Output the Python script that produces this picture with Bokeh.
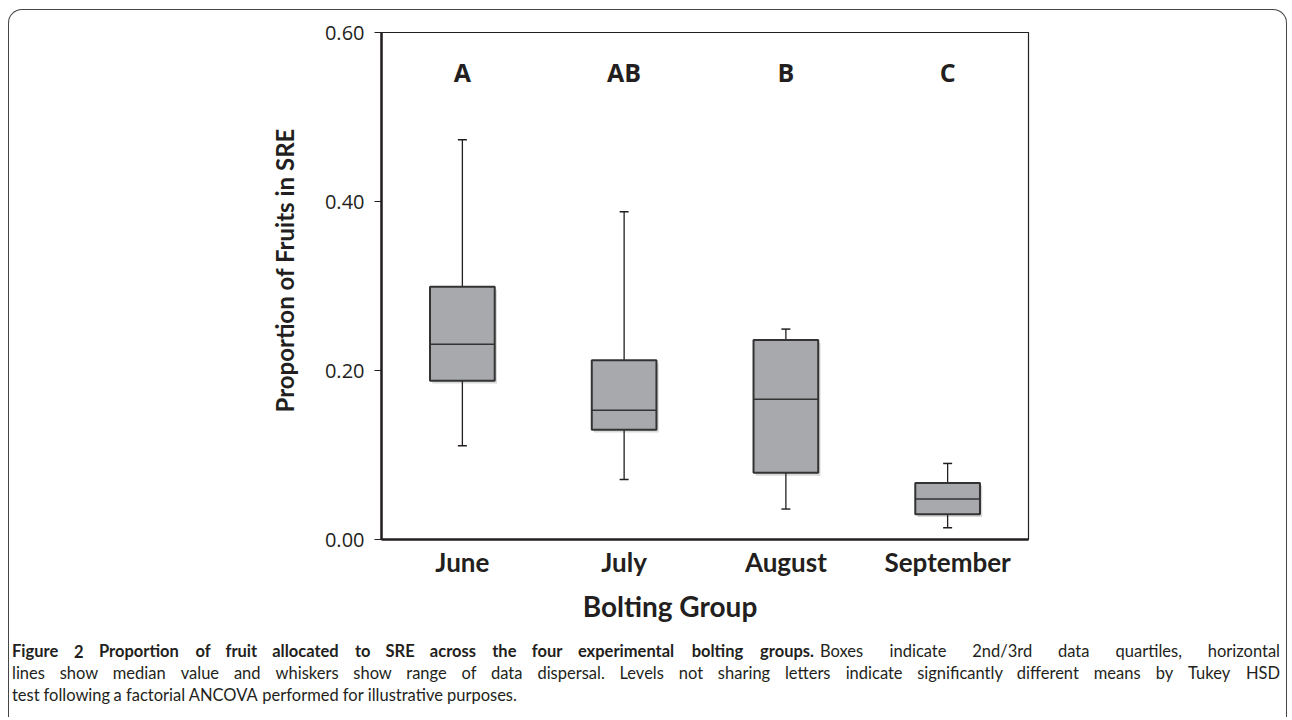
import numpy as np
from bokeh.plotting import figure
from bokeh.layouts import column
from bokeh.models import ColumnDataSource, FactorRange, Range1d, FixedTicker, PrintfTickFormatter, Title
from bokeh.transform import dodge
from bokeh.core.properties import value
from bokeh.embed import file_html
from bokeh.resources import INLINE

# ---------------- data ----------------
groups = ["June", "July", "August", "September"]
whisker_low = [0.111, 0.071, 0.036, 0.014]
quartile1 = [0.188, 0.130, 0.079, 0.030]
median = [0.231, 0.153, 0.166, 0.048]
quartile3 = [0.299, 0.212, 0.236, 0.067]
whisker_high = [0.473, 0.388, 0.249, 0.090]
letters = ["A", "AB", "B", "C"]
letter_level = 0.553
y_ticks = [0.0, 0.2, 0.4, 0.6]

y_title = "Proportion of Fruits in SRE"
x_title = "Bolting Group"
caption_bold = "Figure 2 Proportion of fruit allocated to SRE across the four experimental bolting groups."
caption_rest = ("Boxes indicate 2nd/3rd data quartiles, horizontal lines show median value and whiskers show range "
                "of data dispersal. Levels not sharing letters indicate significantly different means by Tukey HSD "
                "test following a factorial ANCOVA performed for illustrative purposes.")

INK = "#231f20"
BOX = "#a7a9ac"
EDGE = "1.5px solid #454545"

# ---------------- layout constants (page pixels) ----------------
OX, OY = 9.5, 10.5              # page position of the canvas origin (margin + border)
W, H = 1279, 580                # main canvas
HC = 128                        # lower canvas (axis title + caption)
F_LEFT, F_RIGHT, F_TOP, F_BOTTOM = 381, 1029, 32, 539

src = ColumnDataSource(dict(
    g=groups, lo=whisker_low, q1=quartile1, med=median, q3=quartile3, hi=whisker_high,
    q1s=[v - 0.0035 for v in quartile1], q3s=[v - 0.0035 for v in quartile3],
))

p = figure(width=W, height=H,
           x_range=FactorRange(factors=groups, range_padding=0),
           y_range=Range1d(0, 0.6),
           output_backend="svg", toolbar_location=None,
           min_border_left=round(F_LEFT - OX), min_border_right=round(W - (F_RIGHT - OX)),
           min_border_top=round(F_TOP - OY), min_border_bottom=int(H - (F_BOTTOM - OY)))
p.styles = {"border-top": EDGE, "border-left": EDGE, "border-right": EDGE,
            "border-radius": "14px 14px 0 0", "margin-left": "8px", "margin-top": "9px"}
p.background_fill_color = None
p.border_fill_color = None
p.xgrid.visible = False
p.ygrid.visible = False
p.outline_line_color = INK
p.outline_line_width = 1.2

# y axis
p.yaxis.ticker = FixedTicker(ticks=y_ticks)
p.yaxis.formatter = PrintfTickFormatter(format="%.2f")
p.yaxis.axis_line_width = 2.5
p.yaxis.axis_line_color = INK
p.yaxis.major_tick_out = 7
p.yaxis.major_tick_in = 0
p.yaxis.major_tick_line_color = INK
p.yaxis.minor_tick_line_color = None
p.yaxis.major_label_standoff = 10
p.yaxis.major_label_text_font = "Open Sans"
p.yaxis.major_label_text_font_size = "20px"
p.yaxis.major_label_text_color = INK

# x axis
p.xaxis.axis_line_width = 2.5
p.xaxis.axis_line_color = INK
p.xaxis.major_tick_line_color = None
p.xaxis.minor_tick_line_color = None
p.xaxis.major_label_standoff = 0
p.xaxis.major_label_text_font = "Lato"
p.xaxis.major_label_text_font_style = "bold"
p.xaxis.major_label_text_font_size = "26px"
p.xaxis.major_label_text_color = INK

# y title in the left panel, starting a little above the frame bottom
p.add_layout(Title(text=y_title, align="left", offset=127, standoff=46,
                   text_font="Lato", text_font_style="bold", text_font_size="24px",
                   text_color=INK), "left")

# shadows
p.vbar(x=dodge("g", 0.014, range=p.x_range), top="q3s", bottom="q1s", width=0.4, source=src,
       fill_color="#c9c9c9", fill_alpha=0.7, line_color=None)
# whiskers
p.segment(x0="g", y0="q3", x1="g", y1="hi", source=src, line_color=INK, line_width=1.3)
p.segment(x0="g", y0="lo", x1="g", y1="q1", source=src, line_color=INK, line_width=1.3)
p.scatter(x="g", y="hi", source=src, marker="dash", size=9, line_color=INK, line_width=1.5)
p.scatter(x="g", y="lo", source=src, marker="dash", size=9, line_color=INK, line_width=1.5)
# boxes
p.vbar(x="g", top="q3", bottom="q1", width=0.4, source=src,
       fill_color=BOX, line_color="#333333", line_width=2)
p.vbar(x="g", top="med", bottom="med", width=0.4, source=src,
       fill_color=None, line_color="#333333", line_width=1.6)

# significance letters
p.text(x=groups, y=[letter_level] * len(groups), text=letters,
       text_align="center", text_baseline="middle",
       text_font=value("Open Sans"), text_font_style="bold", text_font_size="25px", text_color=INK)

# ---------------- lower figure: x title + caption (1 unit = 1 px, y downward) ----------------
c = figure(width=W, height=HC, x_range=Range1d(0, W), y_range=Range1d(HC, 0),
           output_backend="svg", toolbar_location=None,
           x_axis_location=None, y_axis_location=None,
           min_border=0, min_border_left=0, min_border_right=0, min_border_top=0, min_border_bottom=0)
c.styles = {"border-left": EDGE, "border-right": EDGE, "margin-left": "8px"}
c.grid.visible = False
c.outline_line_color = None
c.background_fill_color = None
c.border_fill_color = None
for fig in (p, c):
    try:
        fig.frame_align = False
    except Exception:
        pass

C_TOP = OY + H   # page y of the lower canvas top

c.text(x=[670 - OX], y=[607 - C_TOP], text=[x_title], text_align="center", text_baseline="middle",
       text_font=value("Lato"), text_font_style="bold", text_font_size="28px", text_color=INK)

CW = dict(a=.50, b=.56, c=.46, d=.56, e=.52, f=.32, g=.50, h=.56, i=.24, j=.24, k=.50, l=.24, m=.84,
          n=.56, o=.56, p=.56, q=.56, r=.37, s=.43, t=.35, u=.56, v=.50, w=.76, x=.49, y=.50, z=.45,
          A=.67, B=.63, C=.66, D=.73, E=.56, F=.54, G=.71, H=.75, I=.28, J=.38, K=.65, L=.48, M=.90,
          N=.75, O=.78, P=.59, Q=.78, R=.62, S=.52, T=.59, U=.72, V=.67, W=1.0, X=.65, Y=.62, Z=.60)
CW.update({".": .22, ",": .22, "/": .40, "-": .33})
for dgt in "0123456789":
    CW[dgt] = .58
CAP_SIZE = 16.5
SPACE = .26

def est(word, bold):
    return sum(CW.get(ch, .55) for ch in word) * CAP_SIZE * (1.05 if bold else 1.0)

bold_words = caption_bold.split()
rest_words = caption_rest.split()
n1, n2 = 6, 22                  # regular words on line 1, words on line 2
# each segment: (words, bold, left, right, page y); right=None -> natural spacing
segments = [
    (bold_words, True, 12, 814, 652),
    (rest_words[:n1], False, 820, 1280, 652),
    (rest_words[n1:n1 + n2], False, 12, 1280, 674),
    (rest_words[n1 + n2:], False, 12, None, 696),
]

cap = dict(x=[], y=[], t=[], style=[], align=[])
for seg_words, bold, left, right, yy in segments:
    widths = [est(w, bold) for w in seg_words]
    if right is not None:
        gap = (right - left - sum(widths)) / (len(seg_words) - 1)
    else:
        gap = SPACE * CAP_SIZE
    x = left
    for k, (w, wd) in enumerate(zip(seg_words, widths)):
        last = right is not None and k == len(seg_words) - 1
        cap["x"].append((right if last else x) - OX)
        cap["y"].append(yy - C_TOP)
        cap["t"].append(w)
        cap["style"].append("bold" if bold else "normal")
        cap["align"].append("right" if last else "left")
        x += wd + gap

c.text(x="x", y="y", text="t", source=ColumnDataSource(cap),
       text_align="align", text_baseline="middle", text_font_style="style",
       text_font=value("Lato"), text_font_size=f"{CAP_SIZE}px", text_color=INK)

layout = column(p, c)
open("out.html", "w").write(file_html(layout, INLINE))
